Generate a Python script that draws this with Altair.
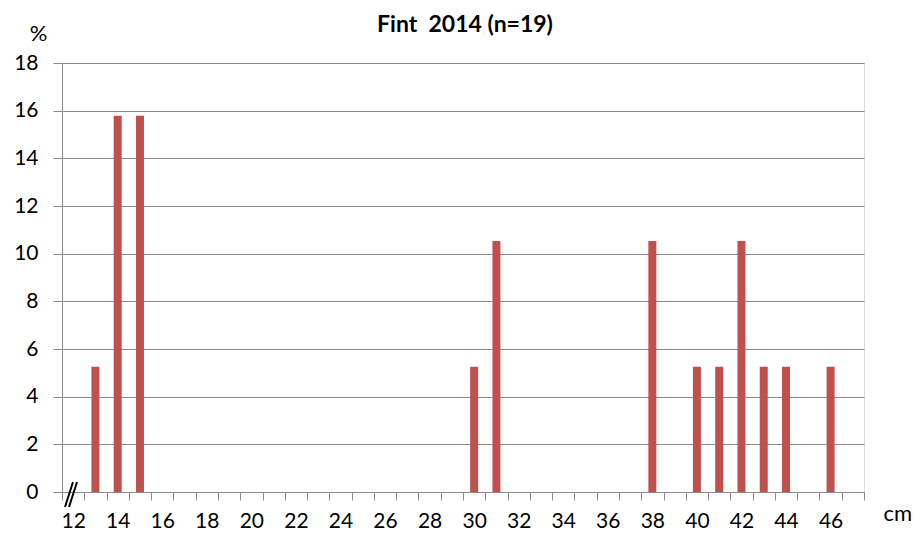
import altair as alt
import pandas as pd

# ---- data ----
cm_values = [13, 14, 15, 30, 31, 38, 40, 41, 42, 43, 44, 46]
percent = [5.26, 15.79, 15.79, 5.26, 10.53, 10.53, 5.26, 5.26, 10.53, 5.26, 5.26, 5.26]
categories = list(range(12, 48))
y_ticks = list(range(0, 20, 2))
title_text = "Fint  2014 (n=19)"

df = pd.DataFrame({"cm": cm_values, "pct": percent})

FONT = "Lato"
GRAY = "#8c8c8c"
W, H = 802, 429

x_enc = alt.X(
    "cm:O",
    scale=alt.Scale(domain=categories, paddingInner=0, paddingOuter=0),
    axis=alt.Axis(
        title="cm",
        titleFont=FONT, titleFontSize=22, titleFontWeight="normal", titleColor="black",
        titleAngle=0, titleAlign="left", titleBaseline="alphabetic",
        titleX=821, titleY=28,
        labelExpr="(datum.value % 2 == 0 && datum.value < 47) ? datum.label : ''",
        labelAngle=0, labelFont=FONT, labelFontSize=21, labelColor="black",
        labelPadding=10, labelOverlap=False,
        tickBand="extent", tickSize=8, tickColor=GRAY, tickWidth=1,
        domainColor=GRAY, domainWidth=1, grid=False,
    ),
)
y_enc = alt.Y(
    "pct:Q",
    scale=alt.Scale(domain=[0, 18], nice=False),
    axis=alt.Axis(
        values=y_ticks,
        title="%",
        titleFont=FONT, titleFontSize=22, titleFontWeight="normal", titleColor="black",
        titleAngle=0, titleAlign="center", titleBaseline="alphabetic",
        titleX=-24, titleY=-23,
        labelFont=FONT, labelFontSize=21, labelColor="black", labelPadding=15,
        tickSize=9, tickColor=GRAY, tickWidth=1,
        domainColor=GRAY, domainWidth=1,
        grid=True, gridColor=GRAY, gridWidth=1,
    ),
)

bars = alt.Chart(df).mark_bar(size=8, color="#C0504D").encode(x=x_enc, y=y_enc)

brk = pd.DataFrame({"x": [3, 7], "x2": [11, 15], "y": [444, 444], "y2": [419, 419]})
breaks = alt.Chart(brk).mark_rule(color="black", strokeWidth=2).encode(
    x=alt.X("x:Q", scale=None), x2="x2:Q",
    y=alt.Y("y:Q", scale=None), y2="y2:Q",
)

# keep the double space visible (SVG collapses plain repeated spaces)
shown_title = title_text.replace("  ", "\u00a0 ")
title = alt.Chart(pd.DataFrame({"t": [shown_title]})).mark_text(
    font=FONT, fontSize=23, fontWeight="bold", color="black",
    align="center", baseline="alphabetic",
).encode(x=alt.value(W / 2 + 2), y=alt.value(-31), text="t:N")

chart = (
    alt.layer(bars, breaks, title)
    .properties(
        width=W, height=H,
        autosize=alt.AutoSizeParams(type="none"),
        padding={"left": 54, "top": 55, "right": 50, "bottom": 40},
    )
    .configure_view(stroke=None)
    .configure(background="white")
)

chart.save("out.html", embed_options={"renderer": "svg", "actions": False})
